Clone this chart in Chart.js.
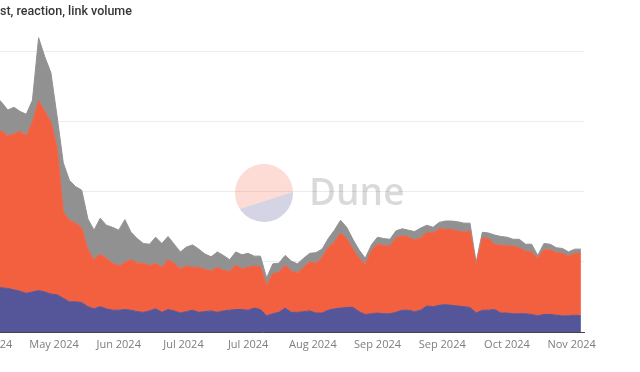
<!DOCTYPE html>
<html>
<head>
<meta charset="utf-8">
<script src="https://cdn.jsdelivr.net/npm/chart.js@4.4.1/dist/chart.umd.min.js"></script>
<style>
  html, body { margin: 0; padding: 0; background: #fff; overflow: hidden; }
  body { width: 640px; height: 372px; position: relative; }
  #wrap { position: absolute; left: -60px; top: 0; width: 700px; height: 372px; }
  #title { position: absolute; left: 0; top: 3px; font: 500 12.5px Roboto, sans-serif; color: #363636; white-space: nowrap; }
</style>
</head>
<body>
<div id="wrap"><canvas id="volumeChart"></canvas></div>
<div id="title">st, reaction, link volume</div>
<script>
// x = days after the first (clipped) tick, one sample every 2 days
const days = [];
for (let d = 2; d <= 192; d += 2) days.push(d);

const tickDays = [0, 21, 42, 63, 84, 105, 126, 147, 168, 189];
const tickLabels = ['Apr 2024', 'May 2024', 'Jun 2024', 'Jul 2024', 'Jul 2024',
                    'Aug 2024', 'Sep 2024', 'Sep 2024', 'Oct 2024', 'Nov 2024'];
const gridValues = [0, 10, 20, 30, 40];

// bottom layer (blue)
const casts = [
  6.4, 6.3, 6.2, 6.0, 5.8, 5.5, 5.7, 5.9, 5.7, 5.4,
  5.3, 4.8, 4.3, 4.3, 4.2, 3.6, 3.3, 3.6, 3.3, 3.1,
  3.1, 3.2, 3.1, 2.9, 2.8, 3.0, 3.3, 2.8, 3.2, 3.0,
  2.7, 2.9, 3.1, 2.8, 2.9, 3.0, 2.8, 3.0, 3.1, 3.2,
  3.2, 3.1, 3.4, 3.2, 2.3, 2.6, 2.8, 3.4, 2.8, 2.8,
  2.9, 3.0, 2.7, 2.7, 3.1, 3.3, 3.4, 3.5, 3.5, 2.9,
  2.5, 2.6, 2.7, 2.6, 2.6, 2.8, 3.1, 3.1, 2.9, 3.1,
  3.7, 3.6, 3.8, 3.9, 3.8, 3.7, 3.6, 3.5, 2.7, 3.1,
  3.1, 3.2, 2.7, 2.7, 2.6, 2.6, 2.6, 2.5, 2.3, 2.5,
  2.5, 2.4, 2.3, 2.3, 2.4, 2.3
];

// middle layer (orange)
const reactions = [
  22.6, 22.3, 21.7, 22.2, 22.8, 22.4, 24.2, 27.0, 25.7, 24.5,
  21.0, 12.3, 11.6, 11.2, 10.6, 8.1, 7.0, 7.5, 7.2, 6.7,
  6.3, 6.7, 7.2, 6.9, 7.0, 6.4, 6.5, 6.4, 7.1, 6.8,
  6.3, 6.5, 6.1, 6.4, 6.0, 5.7, 6.4, 5.8, 5.5, 6.3,
  5.8, 6.1, 6.0, 6.1, 4.3, 5.7, 5.7, 6.1, 5.9, 5.6,
  6.3, 7.0, 7.1, 7.9, 8.9, 9.5, 10.7, 9.8, 8.3, 7.6,
  7.1, 9.0, 9.8, 9.7, 9.6, 10.6, 10.6, 10.4, 10.2, 10.3,
  10.5, 10.5, 10.9, 10.7, 10.8, 10.7, 10.6, 10.9, 6.8, 10.3,
  10.2, 9.3, 9.6, 9.6, 9.6, 9.4, 8.9, 8.9, 8.2, 9.2,
  9.2, 8.9, 8.9, 8.5, 8.8, 8.9
];

// top layer (grey)
const links = [
  4.6, 4.1, 3.7, 3.8, 2.8, 3.1, 3.1, 9.0, 7.8, 7.0,
  4.4, 7.0, 5.7, 5.2, 5.4, 4.4, 4.2, 5.1, 4.7, 5.1,
  5.1, 6.1, 3.9, 3.5, 2.8, 3.1, 3.7, 3.4, 3.3, 2.7,
  2.4, 2.7, 3.2, 2.6, 2.2, 2.0, 2.2, 2.1, 1.7, 1.9,
  2.0, 2.0, 1.4, 1.5, 1.1, 1.4, 1.3, 1.4, 1.4, 1.3,
  1.3, 1.2, 1.5, 1.2, 1.3, 1.7, 1.8, 1.6, 1.4, 1.2,
  0.9, 0.8, 1.0, 1.0, 1.0, 1.0, 1.0, 1.0, 1.2, 1.4,
  1.0, 0.8, 0.9, 1.2, 1.2, 1.3, 1.3, 1.1, 0.4, 0.8,
  0.8, 1.3, 1.3, 1.2, 1.0, 1.2, 1.0, 1.1, 0.4, 0.9,
  0.8, 0.7, 0.7, 0.6, 0.6, 0.6
];

const SHIFT = 60; // canvas is pushed left so the y axis falls outside the picture
const FONT = "'Open Sans', sans-serif";

// faint Dune watermark behind the areas
const duneMark = {
  id: 'duneMark',
  beforeDatasetsDraw(chart) {
    const ctx = chart.ctx;
    const cx = 264 + SHIFT, cy = 193, r = 29;
    const a1 = Math.atan2(16, -24), a2 = Math.atan2(-1, 29);
    ctx.save();
    ctx.fillStyle = 'rgba(243, 96, 64, 0.22)';
    ctx.beginPath();
    ctx.arc(cx, cy, r, a1, a2 + Math.PI * 2);
    ctx.closePath();
    ctx.fill();
    ctx.fillStyle = 'rgba(85, 85, 153, 0.25)';
    ctx.beginPath();
    ctx.arc(cx, cy, r, a2, a1);
    ctx.closePath();
    ctx.fill();
    ctx.fillStyle = 'rgba(0, 0, 0, 0.15)';
    ctx.font = "600 37px " + FONT;
    ctx.textBaseline = 'alphabetic';
    ctx.fillText('Dune', 309 + SHIFT, 205);
    ctx.restore();
  }
};

const toPoints = vals => vals.map((v, i) => ({ x: days[i], y: v }));

let volumeChart;
function initVolumeChart() {
    const ctx = document.getElementById('volumeChart').getContext('2d');
    volumeChart = new Chart(ctx, {
        type: 'line',
        data: {
            datasets: [{
                label: 'casts',
                data: toPoints(casts),
                backgroundColor: '#555599',
                borderColor: '#555599',
                fill: 'origin'
            }, {
                label: 'reactions',
                data: toPoints(reactions),
                backgroundColor: '#f3603f',
                borderColor: '#f3603f',
                fill: '-1'
            }, {
                label: 'links',
                data: toPoints(links),
                backgroundColor: '#919191',
                borderColor: '#919191',
                fill: '-1'
            }]
        },
        options: {
            responsive: true,
            maintainAspectRatio: false,
            animation: false,
            layout: { padding: { top: 30, right: 56, left: 0, bottom: 0 } },
            elements: {
                point: { radius: 0 },
                line: { borderWidth: 1, tension: 0 }
            },
            plugins: { legend: { display: false }, tooltip: { enabled: false } },
            scales: {
                x: {
                    type: 'linear',
                    min: -16,
                    max: 193,
                    afterBuildTicks: s => { s.ticks = tickDays.map(v => ({ value: v })); },
                    afterFit: s => { s.height = 40; },
                    grid: { display: false, drawTicks: false },
                    border: { display: true, color: '#444', width: 1 },
                    ticks: {
                        autoSkip: false,
                        maxRotation: 0,
                        padding: 6,
                        color: '#7d7d7d',
                        font: { family: FONT, size: 11 },
                        callback: (v, i) => tickLabels[i]
                    }
                },
                y: {
                    stacked: true,
                    min: 0,
                    max: 43,
                    afterBuildTicks: s => { s.ticks = gridValues.map(v => ({ value: v })); },
                    afterFit: s => { s.width = 0; },
                    ticks: { display: false },
                    grid: { color: '#ececec', drawTicks: false },
                    border: { display: false }
                }
            }
        },
        plugins: [duneMark]
    });
}

initVolumeChart();
</script>
</body>
</html>
